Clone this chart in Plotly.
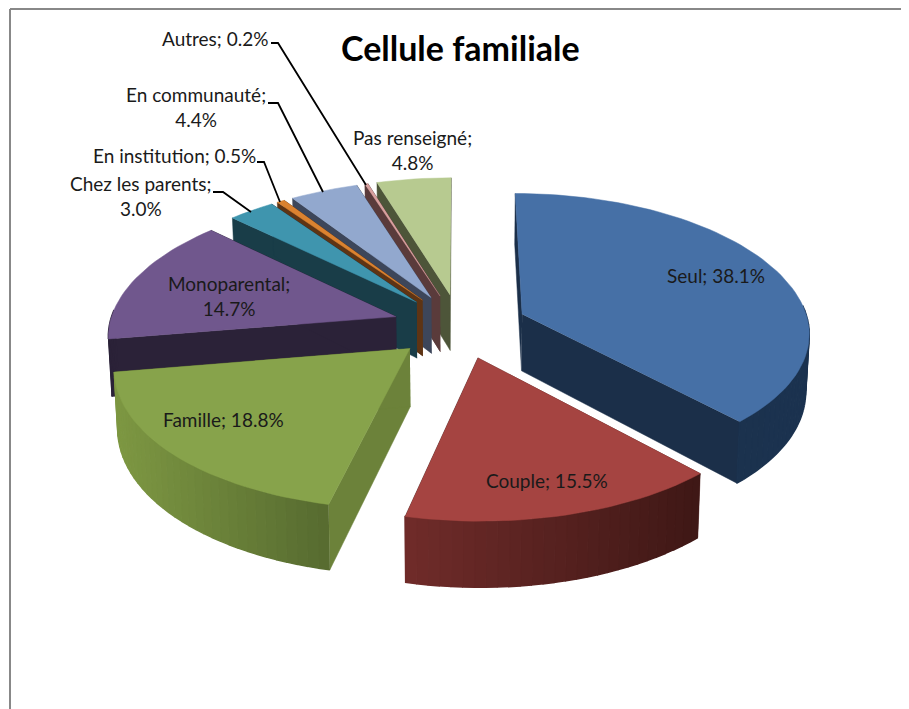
import numpy as np
import plotly.graph_objects as go

# ---- data ----
categories = ["Seul", "Couple", "Famille", "Monoparental", "Chez les parents",
              "En institution", "En communauté", "Autres", "Pas renseigné"]
values = [38.1, 15.5, 18.8, 14.7, 3.0, 0.5, 4.4, 0.2, 4.8]
title_text = "Cellule familiale"

# ---- styles ----
top_colors = ["#4670A6", "#A54441", "#87A34B", "#70578D", "#3F95AE",
              "#DB8230", "#92A8CE", "#D8A09E", "#B7CA90"]
radial_colors = ["#1B2F49", "#4A1D1B", "#6C823A", "#2B2238", "#193D48",
                 "#5E3414", "#3D465A", "#5A3B3B", "#4D5539"]
outer_left = ["#1B2F49", "#702C2A", "#7E9843", "#2B2238", "#193D48",
              "#5E3414", "#3D465A", "#5A3B3B", "#4D5539"]
outer_right = ["#1C3350", "#3F1816", "#576B30", "#2B2238", "#193D48",
               "#5E3414", "#3D465A", "#5A3B3B", "#4D5539"]
draw_order = [8, 7, 6, 5, 4, 3, 0, 2, 1]

# ---- projection ----
CX, CY, RX, RY, KX_BACK, KX_FRONT, KY, WALL, EXPLODE = 460, 326, 287, 137, 0.125, 0.12, 0.113, 57, 0.235


def project(X, Y, bottom=False):
    Y = np.asarray(Y, float)
    s = 1 / (1 + KY * Y)
    x = CX + RX * np.asarray(X) / (1 + np.where(Y > 0, KX_BACK, KX_FRONT) * Y)
    y = CY - RY * Y * s
    if bottom:
        x = CX + (x - CX) * 0.99
        y = y + WALL * s
    return x, y


def hex2rgb(h):
    return np.array([int(h[i:i + 2], 16) for i in (1, 3, 5)], float)


def lerp(a, b, t):
    c = hex2rgb(a) * (1 - t) + hex2rgb(b) * t
    return "rgb(%d,%d,%d)" % tuple(c)


fig = go.Figure()


def poly(xs, ys, color, lw=0.5):
    fig.add_trace(go.Scatter(x=[float(v) for v in xs], y=[float(v) for v in ys],
                             mode="lines", fill="toself",
                             fillcolor=color, line=dict(color=color, width=lw),
                             hoverinfo="skip", showlegend=False))


cum = np.cumsum([0] + values)
total = cum[-1]
for i in draw_order:
    a0, a1 = np.radians(cum[i] / total * 360), np.radians(cum[i + 1] / total * 360)
    mid = (a0 + a1) / 2
    ox, oy = EXPLODE * np.sin(mid), EXPLODE * np.cos(mid)
    th = np.linspace(a0, a1, max(4, int((a1 - a0) * 30)))
    X = ox + np.sin(th)
    Y = oy + np.cos(th)
    xt, yt = project(X, Y)
    xb, yb = project(X, Y, bottom=True)
    axt, ayt = project(ox, oy)
    axb, ayb = project(ox, oy, bottom=True)
    # radial walls
    poly([axt, xt[0], xb[0], axb], [ayt, yt[0], yb[0], ayb], radial_colors[i])
    poly([axt, xt[-1], xb[-1], axb], [ayt, yt[-1], yb[-1], ayb], radial_colors[i])
    # outer wall, with horizontal shading
    xmin, xmax = xt.min(), xt.max()
    for j in range(len(th) - 1):
        if np.cos((th[j] + th[j + 1]) / 2) < 0.05:
            t = ((xt[j] + xt[j + 1]) / 2 - xmin) / max(xmax - xmin, 1)
            poly([xt[j], xt[j + 1], xb[j + 1], xb[j]],
                 [yt[j], yt[j + 1], yb[j + 1], yb[j]],
                 lerp(outer_left[i], outer_right[i], t), lw=1.5)
    # top face
    poly(np.r_[axt, xt], np.r_[ayt, yt], top_colors[i])

# ---- labels (placed on the picture) ----
labels = [f"{c}; {v:.1f}%" for c, v in zip(categories, values)]
label_pos = [(716, 275, 0), (547, 480, 1), (223, 419, 2), (229, 296, 3),
             (141, 196, 4), (174, 155, 5), (196, 107, 6), (215, 38, 7), (412, 150, 8)]
for (x, y, i) in label_pos:
    txt = labels[i]
    if i in (3, 4, 6, 8):
        txt = txt.replace("; ", ";<br>")
    fig.add_annotation(x=x, y=y, text=txt, showarrow=False, xref="x", yref="y",
                       font=dict(family="Lato", size=19, color="#1a1a1a"), align="center")

fig.add_annotation(x=460, y=47, text=f"<b>{title_text}</b>", showarrow=False,
                   font=dict(family="Lato", size=34, color="black"))

leaders = [
    [(213, 192), (223, 192), (251, 212)],
    [(257, 162), (264, 162), (280, 202)],
    [(268, 103), (278, 103), (323, 192)],
    [(271, 43), (278, 43), (366, 185)],
]
for pts in leaders:
    fig.add_trace(go.Scatter(x=[p[0] for p in pts], y=[p[1] for p in pts], mode="lines",
                             line=dict(color="black", width=1.8), hoverinfo="skip", showlegend=False))

# frame
fig.add_shape(type="line", x0=10, x1=10, y0=9, y1=709, line=dict(color="#888888", width=2))
fig.add_shape(type="line", x0=10, x1=909, y0=9, y1=9, line=dict(color="#888888", width=2))

# the page has an 8 px body margin: the axes start at that offset
fig.update_xaxes(range=[8, 909], visible=False, fixedrange=True)
fig.update_yaxes(range=[709, 8], visible=False, fixedrange=True)
fig.update_layout(width=901, height=701, margin=dict(l=0, r=0, t=0, b=0),
                  paper_bgcolor="white", plot_bgcolor="white", showlegend=False)
fig.write_html("out.html", config={"displayModeBar": False})
